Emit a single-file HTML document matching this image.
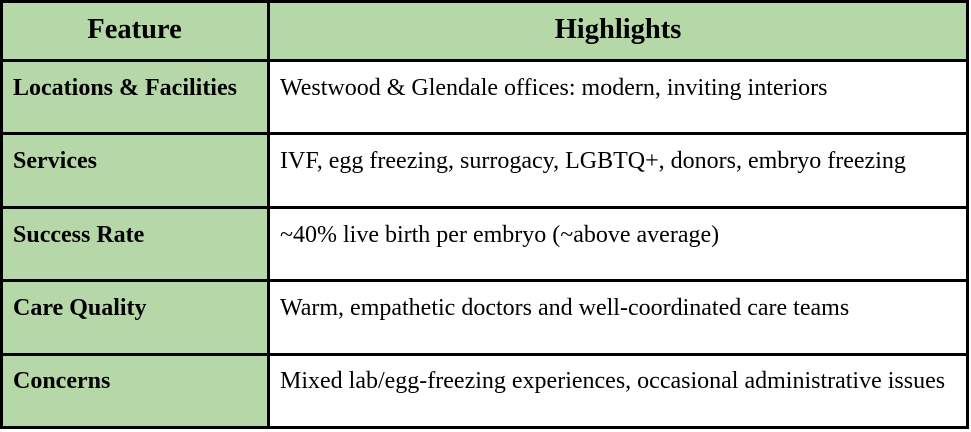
<!DOCTYPE html>
<html><head><style>
body{margin:0;width:971px;height:432px;background:#fff;position:relative;font-family:"Liberation Serif",serif;color:#000;overflow:hidden}
.b{position:absolute;background:#000}
.g{position:absolute;background:#b6d7a8}
.t{position:absolute;font-size:24px;white-space:nowrap;line-height:28px}
.h{position:absolute;font-size:28.5px;font-weight:bold;line-height:34px;text-align:center}
.f{font-weight:bold}
</style></head><body>
<div class="g" style="left:0;top:0;width:968px;height:61px"></div>
<div class="g" style="left:0;top:61px;width:268px;height:367px"></div>
<div class="b" style="left:0;top:0;width:969px;height:3px"></div>
<div class="b" style="left:0;top:0;width:3px;height:429px"></div>
<div class="b" style="left:966px;top:0;width:3px;height:429px"></div>
<div class="b" style="left:267px;top:0;width:3px;height:429px"></div>
<div class="b" style="left:0;top:426px;width:969px;height:3px"></div>
<div class="b" style="left:0;top:59px;width:969px;height:3px"></div>
<div class="b" style="left:0;top:132px;width:969px;height:3px"></div>
<div class="b" style="left:0;top:206px;width:969px;height:3px"></div>
<div class="b" style="left:0;top:279px;width:969px;height:3px"></div>
<div class="b" style="left:0;top:353px;width:969px;height:3px"></div>
<div class="h" style="left:2px;width:265px;top:13px">Feature</div>
<div class="h" style="left:269px;width:698px;top:13px">Highlights</div>
<div class="t f" style="left:13px;top:74px">Locations &amp; Facilities</div>
<div class="t" style="left:280px;top:74px">Westwood &amp; Glendale offices: modern, inviting interiors</div>
<div class="t f" style="left:13px;top:147px">Services</div>
<div class="t" style="left:280px;top:147px">IVF, egg freezing, surrogacy, LGBTQ+, donors, embryo freezing</div>
<div class="t f" style="left:13px;top:221px">Success Rate</div>
<div class="t" style="left:280px;top:221px">~40% live birth per embryo (~above average)</div>
<div class="t f" style="left:13px;top:294px">Care Quality</div>
<div class="t" style="left:280px;top:294px">Warm, empathetic doctors and well-coordinated care teams</div>
<div class="t f" style="left:13px;top:367px">Concerns</div>
<div class="t" style="left:280px;top:367px">Mixed lab/egg-freezing experiences, occasional administrative issues</div>
</body></html>
